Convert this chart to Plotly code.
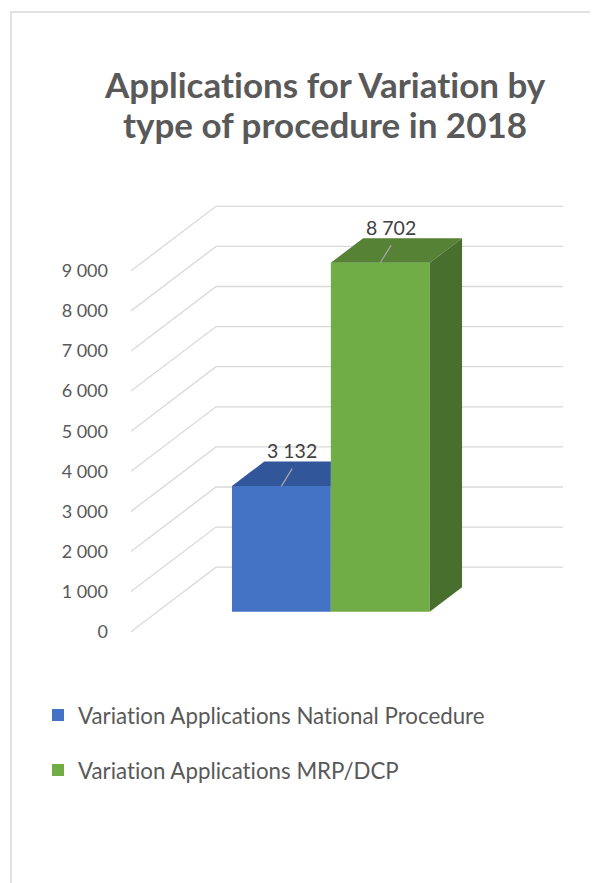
import plotly.graph_objects as go

# data
series_names = ["Variation Applications National Procedure", "Variation Applications MRP/DCP"]
values = [3132, 8702]
value_labels = ["3 132", "8 702"]
tick_vals = [0, 1000, 2000, 3000, 4000, 5000, 6000, 7000, 8000, 9000]
tick_text = ["0", "1 000", "2 000", "3 000", "4 000", "5 000", "6 000", "7 000", "8 000", "9 000"]
title_lines = ["Applications for Variation by", "type of procedure in 2018"]

front_colors = ["#4472C4", "#70AD47"]
top_colors = ["#32569A", "#558235"]
side_colors = ["#2F528F", "#486F2D"]

# fake 3d geometry (axis units)
DEPTH_X, DEPTH_Y = 0.245, 1609      # full depth of the side wall
FRONT_F, BAR_F = 0.31, 0.38          # where bars start / how deep they are
BAR_W = 0.285
FONT = "Lato"
GRID = "#D9D9D9"
TXT = "#595959"

# page has an 8px body margin, so the figure is drawn 8px in from the window corner
OFF = 8
W, H = 598 - OFF, 883 - OFF
ML, MR, MT, MB = 131 - OFF, 35, 190 - OFF, 243
YR = [-207, 11015]
XR = [0, 1 + DEPTH_X]
pw, ph = W - ML - MR, H - MT - MB


def px_x(p):
    return (p - OFF - ML) / pw


def px_y(p):
    return (H - MB - (p - OFF)) / ph


def nolig(s):
    # keep "ti" from turning into a ligature
    return s.replace("ti", "t\u200ci")


fig = go.Figure()

# walls: gridlines running front-left -> back -> right
shapes = []
for v in tick_vals:
    shapes.append(dict(type="path", xref="x", yref="y", layer="below",
                       path=f"M0,{v} L{DEPTH_X},{v + DEPTH_Y} L{DEPTH_X + 1},{v + DEPTH_Y}",
                       line=dict(color=GRID, width=1.3)))

# chart border (partly cut off in the picture)
shapes.append(dict(type="rect", xref="paper", yref="paper", layer="below",
                   x0=px_x(11), x1=px_x(W + 30), y0=px_y(H + 30), y1=px_y(12),
                   line=dict(color=GRID, width=1.5)))

fx, fy = FRONT_F * DEPTH_X, FRONT_F * DEPTH_Y
dx, dy = BAR_F * DEPTH_X, BAR_F * DEPTH_Y
n = len(values)
annotations = []
for i, (name, v) in enumerate(zip(series_names, values)):
    cx = 0.5 + (i - (n - 1) / 2) * BAR_W + fx
    x0, x1 = cx - BAR_W / 2, cx + BAR_W / 2
    base, top = fy, fy + v
    last = i == n - 1
    # top face (clipped by the neighbour's front face if not last)
    if last:
        tx = [x0, x1, x1 + dx, x0 + dx, x0]
    else:
        tx = [x0, x1, x1, x0 + dx, x0]
    ty = [top, top, top + dy, top + dy, top]
    fig.add_trace(go.Scatter(x=tx, y=ty, mode="lines", fill="toself", fillcolor=top_colors[i],
                             line=dict(width=0), hoverinfo="skip", showlegend=False))
    if last:
        fig.add_trace(go.Scatter(x=[x1, x1 + dx, x1 + dx, x1, x1],
                                 y=[base, base + dy, top + dy, top, base],
                                 mode="lines", fill="toself", fillcolor=side_colors[i],
                                 line=dict(width=0), hoverinfo="skip", showlegend=False))
    fig.add_trace(go.Bar(x=[cx], y=[v], base=[base], width=BAR_W, name=nolig(name),
                         legendgroup=f"g{i}",
                         marker=dict(color=front_colors[i], line=dict(width=0))))
    # leader line + label
    lx, ly = cx + 0.031, top + 436
    fig.add_trace(go.Scatter(x=[cx, lx], y=[top, ly], mode="lines",
                             line=dict(color="#A6A6A6", width=1.3), hoverinfo="skip", showlegend=False))
    annotations.append(dict(x=lx, y=ly + 445, xref="x", yref="y", text=value_labels[i],
                            showarrow=False, font=dict(family=FONT, size=19.5, color="#404040")))

# title, two lines placed separately for Excel-like line spacing
for line, py in zip(title_lines, [84, 124]):
    annotations.append(dict(x=px_x(325), y=px_y(py), xref="paper", yref="paper",
                            xanchor="center", yanchor="middle", showarrow=False,
                            text=f"<b>{nolig(line)}</b>",
                            font=dict(family=FONT, size=35, color=TXT)))

fig.update_layout(
    width=W, height=H,
    margin=dict(l=ML, r=MR, t=MT, b=MB, autoexpand=False),
    paper_bgcolor="white", plot_bgcolor="white",
    barmode="overlay",
    xaxis=dict(range=XR, visible=False, fixedrange=True),
    yaxis=dict(range=YR, tickvals=tick_vals, ticktext=tick_text, showgrid=False,
               zeroline=False, showline=False, ticks="", ticklabelstandoff=22,
               tickfont=dict(family=FONT, size=18, color=TXT), fixedrange=True),
    legend=dict(xref="container", yref="container", x=(38 - OFF) / W, y=1 - (694 - OFF) / H,
                xanchor="left", yanchor="top", traceorder="grouped", tracegroupgap=23,
                font=dict(family=FONT, size=22.3, color=TXT), bgcolor="rgba(0,0,0,0)"),
    shapes=shapes,
    annotations=annotations,
    font=dict(family=FONT, color=TXT),
)

fig.write_html("out.html")
